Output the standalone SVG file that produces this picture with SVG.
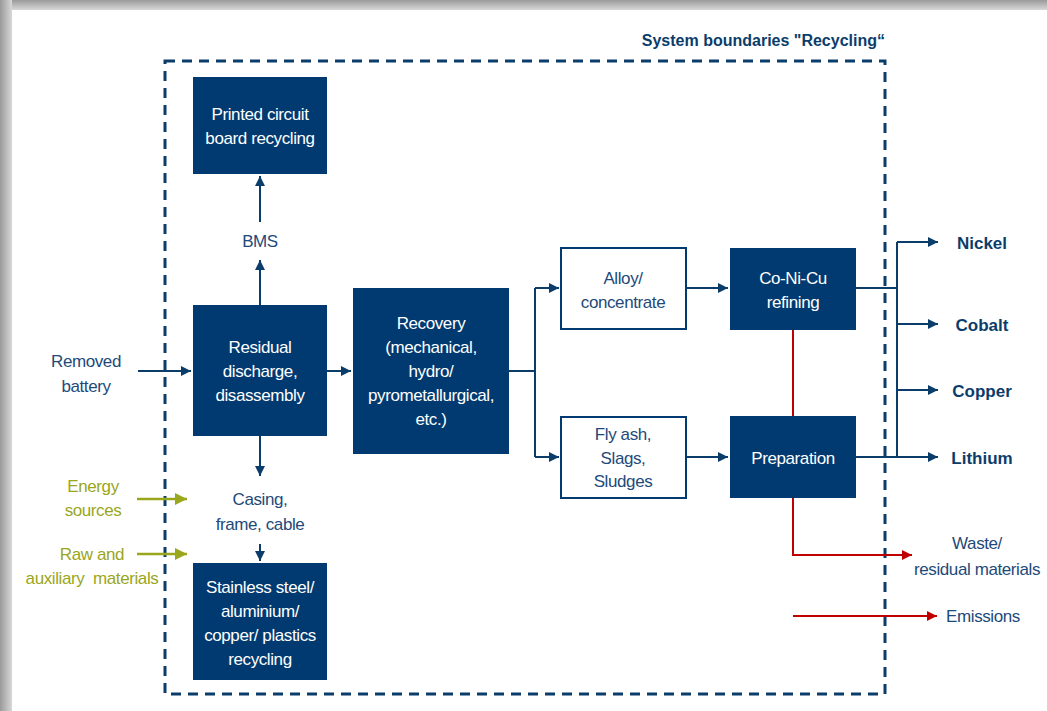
<svg xmlns="http://www.w3.org/2000/svg" width="1047" height="711" viewBox="0 0 1047 711">
<defs>
<linearGradient id="gt" x1="0" y1="0" x2="0" y2="1"><stop offset="0" stop-color="#9a9a9a"/><stop offset="1" stop-color="#d8d8d8"/></linearGradient>
<linearGradient id="gl" x1="0" y1="0" x2="1" y2="0"><stop offset="0" stop-color="#9a9a9a"/><stop offset="1" stop-color="#d8d8d8"/></linearGradient>
<marker id="an" viewBox="0 0 10 10" refX="10" refY="5" markerWidth="5" markerHeight="5" orient="auto" markerUnits="strokeWidth"><path d="M0,0 L10,5 L0,10 z" fill="#0b3d6b"/></marker>
<marker id="ag" viewBox="0 0 10 10" refX="10" refY="5" markerWidth="5" markerHeight="5" orient="auto" markerUnits="strokeWidth"><path d="M0,0 L10,5 L0,10 z" fill="#9aa61c"/></marker>
<marker id="ar" viewBox="0 0 10 10" refX="10" refY="5" markerWidth="5" markerHeight="5" orient="auto" markerUnits="strokeWidth"><path d="M0,0 L10,5 L0,10 z" fill="#c00000"/></marker>
</defs>
<style>
text{font-family:"Liberation Sans Narrow","Liberation Sans",Arial,sans-serif;font-size:17px;text-anchor:middle;letter-spacing:-0.4px}
.dk{fill:#013a70}
.wb{fill:#fff;stroke:#013a70;stroke-width:2}
.wt{fill:#fff}
.nt{fill:#1e4a7a}
.gt{fill:#9aa61c}
.bt{fill:#0b3d6b;font-weight:bold;letter-spacing:0}
.c{fill:none;stroke:#0b3d6b;stroke-width:2}
.g{fill:none;stroke:#9aa61c;stroke-width:2.5}
.r{fill:none;stroke:#c00000;stroke-width:2}
</style>
<rect x="0" y="0" width="1047" height="711" fill="#fff"/>
<rect x="0" y="0" width="1047" height="10" fill="url(#gt)"/>
<rect x="0" y="0" width="12" height="711" fill="url(#gl)"/>
<rect x="12" y="10" width="1035" height="701" fill="#fff"/>

<g id="boundary">
<rect x="165" y="61" width="720" height="633" fill="none" stroke="#0b3d6b" stroke-width="3" stroke-dasharray="10,7"/>
<text x="885" y="46" class="bt" style="text-anchor:end;font-size:16px">System boundaries "Recycling“</text>
</g>

<g id="connectors">
<path class="c" d="M260,222 V176" marker-end="url(#an)"/>
<path class="c" d="M260,305 V260" marker-end="url(#an)"/>
<path class="c" d="M260,436 V476" marker-end="url(#an)"/>
<path class="c" d="M260,544 V561" marker-end="url(#an)"/>
<path class="c" d="M138,371 H191" marker-end="url(#an)"/>
<path class="c" d="M327,371 H351" marker-end="url(#an)"/>
<path class="c" d="M509,371 H535"/>
<path class="c" d="M535,288 V457"/>
<path class="c" d="M535,288 H559" marker-end="url(#an)"/>
<path class="c" d="M535,457 H559" marker-end="url(#an)"/>
<path class="c" d="M686,288 H728" marker-end="url(#an)"/>
<path class="c" d="M686,457 H728" marker-end="url(#an)"/>
<path class="c" d="M856,288 H897"/>
<path class="c" d="M856,457 H897"/>
<path class="c" d="M897,242 V457"/>
<path class="c" d="M897,242 H938" marker-end="url(#an)"/>
<path class="c" d="M897,324 H938" marker-end="url(#an)"/>
<path class="c" d="M897,390 H938" marker-end="url(#an)"/>
<path class="c" d="M897,457 H938" marker-end="url(#an)"/>
<path class="g" d="M137,499 H187" marker-end="url(#ag)"/>
<path class="g" d="M137,554 H187" marker-end="url(#ag)"/>
<path class="r" d="M793,330 V416"/>
<path class="r" d="M793,498 V555 H912" marker-end="url(#ar)"/>
<path class="r" d="M793,616 H937" marker-end="url(#ar)"/>
</g>

<g id="pcb"><rect class="dk" x="193" y="77" width="134" height="97"/><text class="wt" x="260" y="120">Printed circuit</text><text class="wt" x="260" y="144">board recycling</text></g>
<g id="bms"><text class="nt" x="260" y="247">BMS</text></g>
<g id="residual"><rect class="dk" x="193" y="305" width="134" height="131"/><text class="wt" x="260" y="353">Residual</text><text class="wt" x="260" y="377">discharge,</text><text class="wt" x="260" y="401">disassembly</text></g>
<g id="removed"><text class="nt" x="86" y="367">Removed</text><text class="nt" x="86" y="392">battery</text></g>
<g id="casing"><text class="nt" x="260" y="505">Casing,</text><text class="nt" x="260" y="530">frame, cable</text></g>
<g id="energy"><text class="gt" x="93" y="492">Energy</text><text class="gt" x="93" y="516">sources</text></g>
<g id="raw"><text class="gt" x="92" y="560">Raw and</text><text class="gt" x="92" y="584" xml:space="preserve">auxiliary  materials</text></g>
<g id="steel"><rect class="dk" x="193" y="563" width="134" height="117"/><text class="wt" x="260" y="593">Stainless steel/</text><text class="wt" x="260" y="617">aluminium/</text><text class="wt" x="260" y="641">copper/ plastics</text><text class="wt" x="260" y="665">recycling</text></g>
<g id="recovery"><rect class="dk" x="353" y="288" width="156" height="166"/><text class="wt" x="431" y="329">Recovery</text><text class="wt" x="431" y="353">(mechanical,</text><text class="wt" x="431" y="377">hydro/</text><text class="wt" x="431" y="401">pyrometallurgical,</text><text class="wt" x="431" y="425">etc.)</text></g>
<g id="alloy"><rect class="wb" x="561" y="248" width="125" height="81"/><text class="nt" x="623" y="284">Alloy/</text><text class="nt" x="623" y="308">concentrate</text></g>
<g id="flyash"><rect class="wb" x="561" y="417" width="125" height="81"/><text class="nt" x="623" y="440">Fly ash,</text><text class="nt" x="623" y="464">Slags,</text><text class="nt" x="623" y="487">Sludges</text></g>
<g id="refining"><rect class="dk" x="730" y="248" width="126" height="82"/><text class="wt" x="793" y="284">Co-Ni-Cu</text><text class="wt" x="793" y="308">refining</text></g>
<g id="preparation"><rect class="dk" x="730" y="416" width="126" height="82"/><text class="wt" x="793" y="464">Preparation</text></g>
<g id="nickel"><text class="bt" x="982" y="249">Nickel</text></g>
<g id="cobalt"><text class="bt" x="982" y="331">Cobalt</text></g>
<g id="copper"><text class="bt" x="982" y="397">Copper</text></g>
<g id="lithium"><text class="bt" x="982" y="464">Lithium</text></g>
<g id="waste"><text class="nt" x="977" y="549">Waste/</text><text class="nt" x="977" y="575">residual materials</text></g>
<g id="emissions"><text class="nt" x="983" y="622">Emissions</text></g>
</svg>
